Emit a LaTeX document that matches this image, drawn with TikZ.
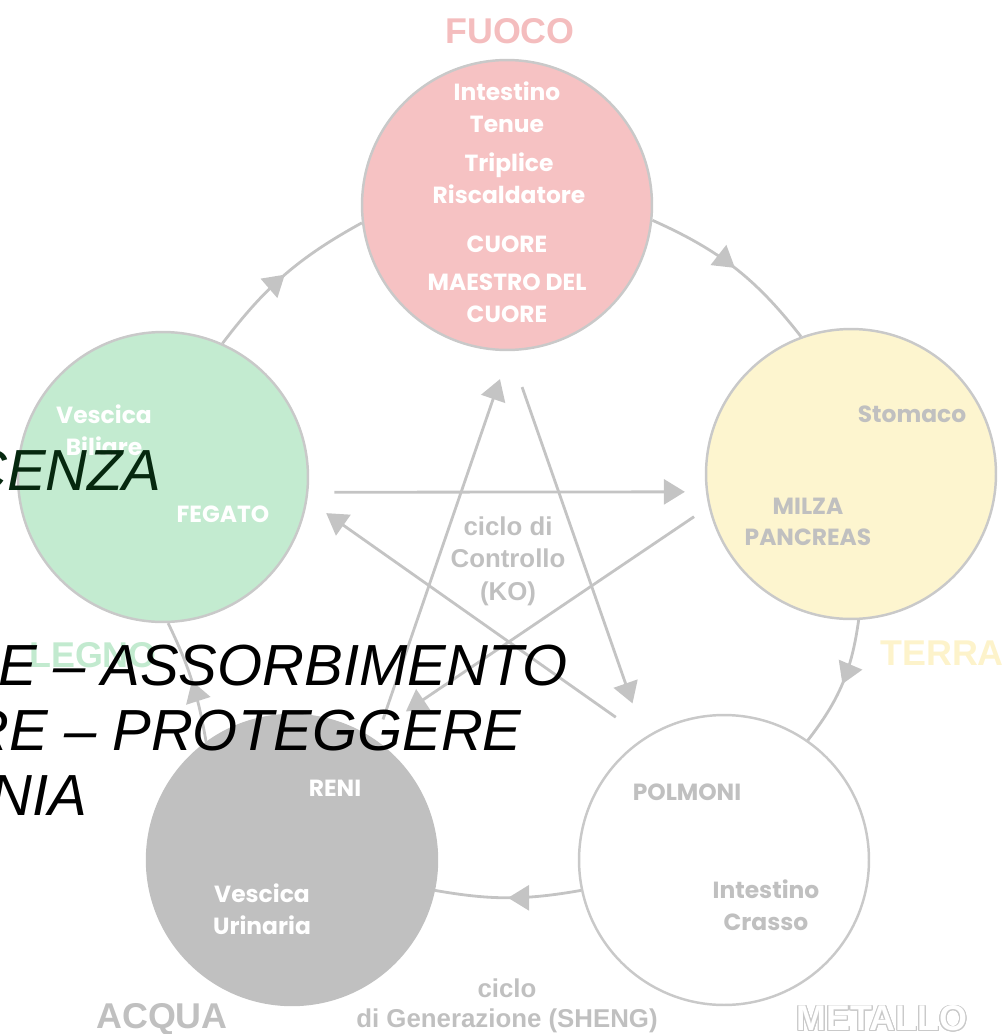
\documentclass[tikz,border=0pt]{standalone}
\usepackage{fontspec}
\setmainfont{Liberation Sans}
\newfontfamily\organfont{Poppins}
\usepackage{contour}
\contourlength{0.5pt}
\usetikzlibrary{arrows.meta,decorations.markings,positioning}
\definecolor{ringgray}{HTML}{C9C9C9}
\definecolor{arrowgray}{HTML}{C4C4C4}
\definecolor{labelgray}{HTML}{C0C0C0}
\definecolor{fuocofill}{HTML}{F6C2C3}
\definecolor{legnofill}{HTML}{C3EBD0}
\definecolor{terrafill}{HTML}{FDF5CF}
\definecolor{acquafill}{HTML}{C0C0C0}
\definecolor{fuocotext}{HTML}{F4BDBE}
\definecolor{terratext}{HTML}{FDF3CB}
\definecolor{legnotext}{HTML}{C2EACF}
\definecolor{slidegreen}{HTML}{06280F}

\begin{document}
\begin{tikzpicture}
	[x=0.02cm, y=-0.02cm, inner sep=0pt,
	elem/.style		= {circle, draw=ringgray, line width=1.4pt, minimum size=5.8cm},
	organw/.style	= {font=\organfont\bfseries\fontsize{13.3}{18}\selectfont, text=white, align=center},
	organg/.style	= {organw, text=labelgray},
	elemlabel/.style	= {font=\bfseries\fontsize{20.4}{24}\selectfont},
	ciclo/.style	= {font=\bfseries\fontsize{14.7}{18.4}\selectfont, text=labelgray, align=center},
	ko/.style		= {->, >={Triangle[length=0.42cm, width=0.5cm]}, draw=arrowgray, line width=1.6pt},
	sheng/.style	= {draw=arrowgray, line width=1.6pt, postaction=decorate,
		decoration={markings, mark=at position 0.5 with {\arrow[arrowgray]{Triangle[length=0.42cm, width=0.5cm]}}}},
	slide/.style	= {font=\itshape\fontsize{33}{40}\selectfont, anchor=base east}]
	
	\useasboundingbox (0,0) rectangle (1005,1034);
	
	\node at (507,205)	[elem, fill=fuocofill]	(fuoco)	{};
	\node at (163,477)	[elem, fill=legnofill]	(legno)	{};
	\node at (851,474)	[elem, fill=terrafill]	(terra)	{};
	\node at (724,860)	[elem, fill=white]	(metallo)	{};
	\node at (292,860)	[elem, fill=acquafill, draw=acquafill]	(acqua)	{};
	
	\draw [sheng] (legno.66) to [bend left=12] (fuoco.187);
	\draw [sheng] (fuoco.-6) to [bend left=14] (terra.110);
	\draw [sheng] (terra.-87) to [bend left=15] (metallo.55);
	\draw [sheng] (metallo.192) to [bend left=10] (acqua.-12);
	\draw [sheng] (acqua.126) to [bend right=8] (legno.-88);
	
	\draw [ko, shorten <=0.52cm, shorten >=0.42cm] (legno.-6) -- (terra.187);
	\draw [ko, shorten <=0.35cm, shorten >=0.88cm] (terra.193) -- (acqua.58);
	\draw [ko, shorten <=0.44cm, shorten >=0.59cm] (acqua.55) -- (fuoco.-89);
	\draw [ko, shorten <=0.76cm, shorten >=0.72cm] (fuoco.-89) -- (metallo.123);
	\draw [ko, shorten <=0.70cm, shorten >=0.46cm] (metallo.123) -- (legno.-9);
	
	\node at (507,107)	[organw]	(it)	{Intestino\\Tenue};
	\node at (509,178)	[organw]	(tr)	{Triplice\\Riscaldatore};
	\node at (507,244)	[organw]	(cu)	{CUORE};
	\node at (507,298)	[organw]	(mc)	{MAESTRO DEL\\CUORE};
	\node at (104,430)	[organw]	(vb)	{Vescica\\Biliare};
	\node at (223,514)	[organw]	(fe)	{FEGATO};
	\node at (912,414)	[organg]	(st)	{Stomaco};
	\node at (808,522)	[organg]	(mp)	{MILZA\\PANCREAS};
	\node at (335,788)	[organw]	(re)	{RENI};
	\node at (262,909)	[organw]	(vu)	{Vescica\\Urinaria};
	\node at (687,792)	[organg]	(po)	{POLMONI};
	\node at (766,905)	[organg]	(ic)	{Intestino\\Crasso};
	
	\node at (510,31)	[elemlabel, text=fuocotext]	(lfuoco)	{FUOCO};
	\node at (880,653)	[elemlabel, text=terratext, anchor=west]	(lterra)	{TERRA};
	\node at (93,655)	[elemlabel, text=legnotext]	(llegno)	{LEGNO};
	\node at (162,1019)	[elemlabel, text=labelgray]	(lacqua)	{ACQUA};
	\node at (882,1019)	[elemlabel, text=white]	(lmetallo)	{\contour{ringgray}{METALLO}};
	
	\node at (508,561)	[ciclo]	(lko)	{ciclo di\\Controllo\\(KO)};
	\node at (507,1006)	[ciclo, font=\bfseries\fontsize{14.7}{17}\selectfont]	(lsheng)	{ciclo\\di Generazione (SHENG)};
	
	\node at (162,490)	[slide, text=slidegreen]	(s1)	{CENZA};
	\node at (568,685)	[slide]	(s2)	{E – ASSORBIMENTO};
	\node at (522,750)	[slide]	(s3)	{RE – PROTEGGERE};
	\node at (88,815)	[slide]	(s4)	{NIA};
	
\end{tikzpicture}
\end{document}
